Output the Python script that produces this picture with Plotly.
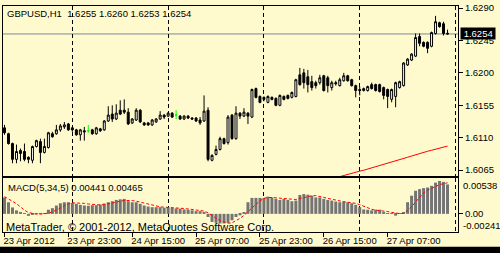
import plotly.graph_objects as go
import pandas as pd

# ---------------- data ----------------
symbol = "GBPUSD,H1"
times = pd.date_range("2012-04-23 07:00", periods=112, freq="h")

open_ = [1.61237, 1.61155, 1.61019, 1.60800, 1.60923, 1.60909, 1.60828, 1.60787, 1.60978, 1.61046,
         1.60896, 1.60964, 1.61155, 1.61155, 1.61209, 1.61250, 1.61291, 1.61237, 1.61209, 1.61141,
         1.61196, 1.61196, 1.61209, 1.61155, 1.61223, 1.61209, 1.61332, 1.61428, 1.61360, 1.61482,
         1.61482, 1.61455, 1.61305, 1.61346, 1.61482, 1.61305, 1.61305, 1.61278, 1.61319, 1.61360,
         1.61414, 1.61400, 1.61441, 1.61414, 1.61400, 1.61360, 1.61400, 1.61373, 1.61373, 1.61346,
         1.61332, 1.61482, 1.60787, 1.60869, 1.60937, 1.61087, 1.61032, 1.61414, 1.61087, 1.61441,
         1.61400, 1.61441, 1.61387, 1.61782, 1.61673, 1.61660, 1.61591, 1.61660, 1.61646, 1.61550,
         1.61673, 1.61687, 1.61660, 1.61673, 1.61973, 1.62000, 1.61946, 1.61878, 1.61864, 1.61864,
         1.61960, 1.61932, 1.61796, 1.61864, 1.61823, 1.61891, 1.61960, 1.61905, 1.61823, 1.61769,
         1.61755, 1.61755, 1.61837, 1.61837, 1.61837, 1.61796, 1.61769, 1.61632, 1.61673, 1.61796,
         1.61823, 1.62110, 1.62178, 1.62232, 1.62505, 1.62423, 1.62423, 1.62369, 1.62546, 1.62696,
         1.62682, 1.6255]
high = [1.61278, 1.61169, 1.61032, 1.61005, 1.60950, 1.61019, 1.60841, 1.60991, 1.61073, 1.61087,
        1.61087, 1.61182, 1.61182, 1.61278, 1.61291, 1.61319, 1.61305, 1.61250, 1.61223, 1.61223,
        1.61250, 1.61278, 1.61223, 1.61250, 1.61237, 1.61346, 1.61537, 1.61550, 1.61564, 1.61619,
        1.61632, 1.61510, 1.61373, 1.61510, 1.61496, 1.61319, 1.61319, 1.61360, 1.61373, 1.61469,
        1.61428, 1.61455, 1.61455, 1.61482, 1.61414, 1.61414, 1.61414, 1.61387, 1.61387, 1.61387,
        1.61687, 1.61523, 1.60869, 1.60991, 1.61114, 1.61100, 1.61414, 1.61428, 1.61537, 1.61455,
        1.61510, 1.61455, 1.61782, 1.61796, 1.61687, 1.61673, 1.61687, 1.61673, 1.61660, 1.61700,
        1.61687, 1.61700, 1.61741, 1.61918, 1.62069, 1.62055, 1.62041, 1.61960, 1.61891, 1.61973,
        1.61973, 1.61960, 1.61891, 1.61891, 1.61932, 1.62000, 1.61973, 1.61918, 1.61837, 1.61810,
        1.61796, 1.61823, 1.61864, 1.61850, 1.61850, 1.61810, 1.61782, 1.61782, 1.61878, 1.61891,
        1.62150, 1.62205, 1.62273, 1.62546, 1.62546, 1.62437, 1.62437, 1.62573, 1.62791, 1.62710,
        1.62710, 1.6260]
low = [1.61141, 1.61005, 1.60746, 1.60746, 1.60773, 1.60773, 1.60746, 1.60746, 1.60964, 1.60746,
       1.60882, 1.60950, 1.61100, 1.61141, 1.61182, 1.61223, 1.61196, 1.61182, 1.61128, 1.61060,
       1.61060, 1.61169, 1.61141, 1.61141, 1.61182, 1.61196, 1.61319, 1.61319, 1.61346, 1.61414,
       1.61428, 1.61278, 1.61291, 1.61332, 1.61305, 1.61264, 1.61264, 1.61264, 1.61305, 1.61346,
       1.61360, 1.61387, 1.61373, 1.61360, 1.61346, 1.61346, 1.61360, 1.61346, 1.61319, 1.61278,
       1.61319, 1.60773, 1.60773, 1.60855, 1.60923, 1.61005, 1.61005, 1.61073, 1.61073, 1.61360,
       1.61387, 1.61291, 1.61373, 1.61646, 1.61578, 1.61605, 1.61578, 1.61619, 1.61537, 1.61537,
       1.61619, 1.61632, 1.61646, 1.61660, 1.61823, 1.61782, 1.61728, 1.61755, 1.61782, 1.61837,
       1.61741, 1.61728, 1.61755, 1.61823, 1.61810, 1.61878, 1.61878, 1.61810, 1.61660, 1.61687,
       1.61741, 1.61741, 1.61769, 1.61741, 1.61728, 1.61632, 1.61510, 1.61591, 1.61523, 1.61782,
       1.61810, 1.62096, 1.62164, 1.62219, 1.62369, 1.62355, 1.62273, 1.62355, 1.62532, 1.62628,
       1.62519, 1.6253]
close = [1.61169, 1.61019, 1.60800, 1.60909, 1.60882, 1.60800, 1.60800, 1.60978, 1.61060, 1.60896,
         1.60978, 1.61169, 1.61114, 1.61209, 1.61264, 1.61278, 1.61209, 1.61209, 1.61141, 1.61209,
         1.61182, 1.61196, 1.61155, 1.61237, 1.61196, 1.61332, 1.61414, 1.61360, 1.61441, 1.61428,
         1.61455, 1.61291, 1.61360, 1.61482, 1.61319, 1.61278, 1.61278, 1.61346, 1.61360, 1.61414,
         1.61387, 1.61441, 1.61387, 1.61414, 1.61360, 1.61400, 1.61373, 1.61360, 1.61332, 1.61305,
         1.61469, 1.60800, 1.60855, 1.60937, 1.61087, 1.61019, 1.61387, 1.61087, 1.61441, 1.61400,
         1.61455, 1.61400, 1.61769, 1.61660, 1.61591, 1.61632, 1.61673, 1.61632, 1.61550, 1.61687,
         1.61632, 1.61646, 1.61728, 1.61905, 1.61837, 1.61864, 1.61837, 1.61796, 1.61823, 1.61932,
         1.61755, 1.61823, 1.61864, 1.61850, 1.61905, 1.61960, 1.61891, 1.61823, 1.61755, 1.61755,
         1.61782, 1.61810, 1.61782, 1.61755, 1.61741, 1.61687, 1.61673, 1.61769, 1.61864, 1.61878,
         1.62137, 1.62191, 1.62260, 1.62491, 1.62410, 1.62369, 1.62341, 1.62560, 1.62710, 1.62641,
         1.62546, 1.6254]

# long moving average (red line), visible only at the end of the window
ma_start = 84
ma_values = [1.60560, 1.60577, 1.60591, 1.60606, 1.60620, 1.60636, 1.60649, 1.60665, 1.60678, 1.60694,
             1.60707, 1.60722, 1.60738, 1.60757, 1.60774, 1.60793, 1.60810, 1.60829, 1.60846, 1.60865,
             1.60882, 1.60897, 1.60912, 1.60926, 1.60941, 1.60956, 1.60970, 1.60984]

macd_hist = [0.00247, 0.00174, 0.00096, 0.00052, 0.00027, 0.00007, -0.00030, -0.00008, 0.00012, 0.00012,
             0.00012, 0.00062, 0.00085, 0.00125, 0.00159, 0.00174, 0.00174, 0.00165, 0.00150, 0.00135,
             0.00125, 0.00121, 0.00130, 0.00130, 0.00140, 0.00155, 0.00174, 0.00189, 0.00209, 0.00218,
             0.00224, 0.00189, 0.00174, 0.00174, 0.00150, 0.00125, 0.00110, 0.00100, 0.00100, 0.00100,
             0.00091, 0.00100, 0.00091, 0.00081, 0.00077, 0.00066, 0.00062, 0.00052, 0.00041, 0.00041,
             0.00027, -0.00047, -0.00121, -0.00135, -0.00144, -0.00144, -0.00135, -0.00096, -0.00047, -0.00022,
             0.00027, 0.00174, 0.00239, 0.00239, 0.00239, 0.00239, 0.00258, 0.00247, 0.00224, 0.00209,
             0.00224, 0.00209, 0.00189, 0.00199, 0.00283, 0.00297, 0.00287, 0.00272, 0.00247, 0.00247,
             0.00224, 0.00209, 0.00199, 0.00184, 0.00174, 0.00184, 0.00174, 0.00159, 0.00135, 0.00100,
             0.00066, 0.00062, 0.00052, 0.00062, 0.00062, 0.00027, 0.00012, 0.00003, -0.00027, 0.00012,
             0.00027, 0.00174, 0.00272, 0.00346, 0.00371, 0.00386, 0.00395, 0.00420, 0.00468, 0.00493,
             0.00479, 0.00441]
macd_signal = [0.00258, 0.00226, 0.00195, 0.00152, 0.00105, 0.00055, 0.00020, 0.00002, -0.00005, -0.00005,
               -0.00003, 0.00010, 0.00028, 0.00055, 0.00087, 0.00122, 0.00150, 0.00165, 0.00165, 0.00162,
               0.00157, 0.00148, 0.00140, 0.00134, 0.00133, 0.00138, 0.00148, 0.00160, 0.00174, 0.00189,
               0.00200, 0.00204, 0.00200, 0.00190, 0.00175, 0.00155, 0.00140, 0.00125, 0.00113, 0.00105,
               0.00100, 0.00098, 0.00096, 0.00092, 0.00087, 0.00080, 0.00073, 0.00066, 0.00058, 0.00050,
               0.00042, 0.00015, -0.00030, -0.00064, -0.00102, -0.00126, -0.00140, -0.00135, -0.00105, -0.00068,
               -0.00022, 0.00030, 0.00087, 0.00145, 0.00197, 0.00232, 0.00245, 0.00245, 0.00240, 0.00230,
               0.00223, 0.00216, 0.00210, 0.00215, 0.00230, 0.00246, 0.00261, 0.00270, 0.00274, 0.00264,
               0.00247, 0.00232, 0.00217, 0.00201, 0.00191, 0.00182, 0.00174, 0.00167, 0.00157, 0.00138,
               0.00113, 0.00085, 0.00068, 0.00055, 0.00051, 0.00047, 0.00035, 0.00022, 0.00009, 0.00004,
               0.00008, 0.00050, 0.00108, 0.00178, 0.00248, 0.00315, 0.00355, 0.00385, 0.00414, 0.00438,
               0.00452, 0.00465]
macd_scale_labels = [0.00538, -0.00241]

price_ticks = [1.6065, 1.6110, 1.6155, 1.6200, 1.6245, 1.6290]
time_tick_vals = ["2012-04-23 07:00", "2012-04-23 23:00", "2012-04-24 15:00", "2012-04-25 07:00",
                  "2012-04-25 23:00", "2012-04-26 15:00", "2012-04-27 07:00"]
time_tick_text = ["23 Apr 2012", "23 Apr 23:00", "24 Apr 15:00", "25 Apr 07:00",
                  "25 Apr 23:00", "26 Apr 15:00", "27 Apr 07:00"]
day_separators = ["2012-04-24", "2012-04-25", "2012-04-26", "2012-04-27", "2012-04-28"]

# ---------------- style ----------------
BG = "#FFFACD"
FONT = "Liberation Sans"
FS = 9.5

x_start = times[0] - pd.Timedelta(minutes=22.5)
x_end = times[0] + pd.Timedelta(minutes=60 * 113.625)

is_doji = [o == c for o, c in zip(open_, close)]
n_idx = [i for i in range(len(times)) if not is_doji[i]]
d_idx = [i for i in range(len(times)) if is_doji[i]]

fig = go.Figure()
fig.add_trace(go.Candlestick(
    x=[times[i] for i in n_idx], open=[open_[i] for i in n_idx], high=[high[i] for i in n_idx],
    low=[low[i] for i in n_idx], close=[close[i] for i in n_idx],
    increasing=dict(line=dict(color="black", width=1), fillcolor="white"),
    decreasing=dict(line=dict(color="black", width=1), fillcolor="black"),
    whiskerwidth=0, hoverinfo="skip", showlegend=False, xaxis="x", yaxis="y"))
fig.add_trace(go.Candlestick(
    x=[times[i] for i in d_idx], open=[open_[i] for i in d_idx], high=[high[i] for i in d_idx],
    low=[low[i] for i in d_idx], close=[close[i] for i in d_idx],
    increasing=dict(line=dict(color="#00FF00", width=1), fillcolor="#00FF00"),
    decreasing=dict(line=dict(color="#00FF00", width=1), fillcolor="#00FF00"),
    whiskerwidth=0, hoverinfo="skip", showlegend=False, xaxis="x", yaxis="y"))
fig.add_trace(go.Scatter(
    x=times[ma_start:], y=ma_values, mode="lines", line=dict(color="#FF0000", width=1),
    hoverinfo="skip", showlegend=False, xaxis="x", yaxis="y"))
fig.add_trace(go.Bar(
    x=times, y=macd_hist, marker=dict(color="#747474", line=dict(width=0)),
    hoverinfo="skip", showlegend=False, xaxis="x2", yaxis="y2"))
fig.add_trace(go.Scatter(
    x=times, y=macd_signal, mode="lines", line=dict(color="#FF0000", width=1, dash="3px,2px"),
    hoverinfo="skip", showlegend=False, xaxis="x2", yaxis="y2"))

minor_sep = dict(tickvals=day_separators, showgrid=True, gridcolor="black",
                 griddash="4px,3px", gridwidth=1, ticks="")
axis_common = dict(showline=True, mirror=True, linecolor="black", linewidth=1,
                   zeroline=False, showgrid=False)

fig.update_layout(
    width=500, height=253,
    margin=dict(l=2, r=42, t=2, b=21),
    paper_bgcolor=BG, plot_bgcolor=BG,
    showlegend=False, bargap=0.25,
    font=dict(family=FONT, size=FS, color="black"),
    xaxis=dict(domain=[0, 1], anchor="y", type="date", range=[x_start, x_end],
               showticklabels=False, ticks="", rangeslider=dict(visible=False),
               minor=minor_sep, **axis_common),
    xaxis2=dict(domain=[0, 1], anchor="y2", type="date", range=[x_start, x_end], matches="x",
                tickmode="array", tickvals=time_tick_vals, ticktext=time_tick_text,
                ticks="outside", ticklen=4, tickcolor="black",
                ticklabelposition="outside right", ticklabelshift=-2, ticklabeloverflow="allow",
                minor=minor_sep,
                tickfont=dict(family=FONT, size=FS, color="black"), **axis_common),
    yaxis=dict(domain=[57 / 230, 1], anchor="x", side="right",
               range=[1.60569, 1.62928], tickmode="array", tickvals=price_ticks,
               tickformat=".4f", ticks="outside", ticklen=4, tickcolor="black",
               ticklabeloverflow="allow",
               tickfont=dict(family=FONT, size=FS, color="black"), **axis_common),
    yaxis2=dict(domain=[0, 55 / 230], anchor="x2", side="right",
                range=[-0.00272, 0.00538], tickmode="array", tickvals=[0], ticktext=["0.00"],
                ticks="outside", ticklen=4, tickcolor="black", ticklabeloverflow="allow",
                tickfont=dict(family=FONT, size=FS, color="black"), **axis_common),
)

bid = close[-1]
fig.add_shape(type="line", xref="paper", x0=0, x1=1, yref="y", y0=bid, y1=bid,
              line=dict(color="#778899", width=1), layer="below")
fig.add_shape(type="rect", xref="paper", x0=-0.02, x1=1.1, yref="paper", y0=-0.11, y1=-15 / 230,
              fillcolor="black", line=dict(width=0))

title = f"{symbol}\u00a0\u00a0{open_[-1]:.4f} {high[-1]:.4f} {low[-1]:.4f} {close[-1]:.4f}"
fig.add_annotation(text=title, x=0, y=1, xref="paper", yref="paper", xanchor="left", yanchor="top",
                   xshift=2, yshift=0, showarrow=False, font=dict(family=FONT, size=FS, color="black"))
fig.add_annotation(text=f"MACD(5,34,5) {macd_hist[-1]:.5f} {macd_signal[-1]:.5f}",
                   x=0, y=1, xref="paper", yref="y2 domain", xanchor="left", yanchor="top",
                   xshift=3, yshift=-2, showarrow=False, font=dict(family=FONT, size=FS, color="black"))
fig.add_annotation(text="MetaTrader, \u00a9 2001-2012, MetaQuotes Software Corp.",
                   x=0, y=0, xref="paper", yref="y2 domain", xanchor="left", yanchor="bottom",
                   xshift=1, yshift=-3, showarrow=False, font=dict(family=FONT, size=11, color="black"))
fig.add_annotation(text=f"\u00a0{bid:.4f}\u00a0", x=1, y=bid, xref="paper", yref="y", xanchor="left",
                   yanchor="middle", xshift=2, showarrow=False, bgcolor="black", borderpad=0,
                   font=dict(family=FONT, size=FS, color="white"))
fig.add_annotation(text=f"{macd_scale_labels[0]:.5f}", x=1, y=macd_scale_labels[0], xref="paper", yref="y2",
                   xanchor="left", yanchor="top", xshift=3, showarrow=False,
                   font=dict(family=FONT, size=FS, color="black"))
fig.add_annotation(text=f"{macd_scale_labels[1]:.5f}", x=1, y=macd_scale_labels[1], xref="paper", yref="y2",
                   xanchor="left", yanchor="bottom", xshift=3, yshift=-3, showarrow=False,
                   font=dict(family=FONT, size=FS, color="black"))

fig.write_html("out.html")
